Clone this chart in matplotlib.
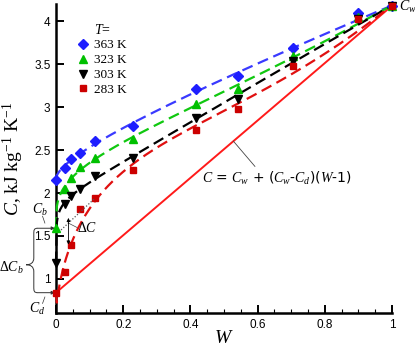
import numpy as np
import matplotlib
matplotlib.use("Agg")
import matplotlib.pyplot as plt
from matplotlib.path import Path
from matplotlib.patches import PathPatch
from matplotlib.ticker import MultipleLocator, FuncFormatter

plt.rcParams['mathtext.fontset'] = 'custom'
plt.rcParams['mathtext.rm'] = 'Liberation Serif'
plt.rcParams['mathtext.it'] = 'Liberation Serif:italic'
plt.rcParams['mathtext.bf'] = 'Liberation Serif:bold'

# ---- data ----
W = [0.0, 0.027, 0.045, 0.07, 0.116, 0.23, 0.417, 0.543, 0.706, 0.898, 1.0]
C_363 = [2.15, 2.29, 2.40, 2.47, 2.60, 2.78, 3.21, 3.36, 3.69, 4.09, 4.18]
C_323 = [1.59, 2.05, 2.17, 2.30, 2.41, 2.63, 3.04, 3.21, 3.59, 4.05, 4.18]
C_303 = [1.19, 1.87, 1.97, 2.05, 2.20, 2.41, 2.87, 3.10, 3.54, 4.03, 4.18]
C_283 = [0.84, 1.08, 1.39, 1.81, 1.94, 2.27, 2.73, 2.98, 3.48, 4.02, 4.18]
labels = ["363 K", "323 K", "303 K", "283 K"]
Cd = C_283[0]
Cb = C_323[0]
Cw = 4.18


def smooth_fit(w, c):
    """Least-squares fit curve through the measured points."""
    w = np.asarray(w, float)
    c = np.asarray(c, float)
    def basis(x):
        return np.column_stack([np.ones_like(x), x ** 0.25, x ** 0.5, x, x ** 2])
    wt = np.ones_like(w)
    wt[0] = 4.0
    wt[-1] = 4.0
    A = basis(w) * wt[:, None]
    coef, *_ = np.linalg.lstsq(A, c * wt, rcond=None)
    xs = np.linspace(0, 1, 400)
    return xs, basis(xs) @ coef


fig = plt.figure(figsize=(4.15, 3.47), dpi=100)
ax = fig.add_axes([0.1349, 0.0971, 0.8097, 0.8914])

series = [
    (C_363, '#1e1eff', '#3a3aff', 'D', 5.0),
    (C_323, '#00c000', '#10c810', '^', 5.5),
    (C_303, '#000000', '#000000', 'v', 5.5),
    (C_283, '#cc0000', '#e01010', 's', 5.0),
]

# solid red line
ax.plot([0, 1], [Cd, Cw], color='#ff1a1a', lw=1.4, zorder=2, clip_on=False)

handles = []
for (vals, mc, lc, mk, ms), lab in zip(series, labels):
    xs, ys = smooth_fit(W, vals)
    ax.plot(xs, ys, color=lc, lw=1.6, dashes=(5, 2.6), zorder=3, clip_on=False)
    h, = ax.plot(W, vals, linestyle='none', marker=mk, color=mc, ms=ms,
                 zorder=4, clip_on=False, label=lab)
    handles.append(h)

ax.set_xlim(0, 1)
ax.set_ylim(0.6, 4.2)

for s in ['top', 'right']:
    ax.spines[s].set_visible(False)
for s in ['left', 'bottom']:
    ax.spines[s].set_linewidth(1.8)

ax.xaxis.set_major_locator(MultipleLocator(0.2))
ax.xaxis.set_minor_locator(MultipleLocator(0.05))
ax.set_yticks([1, 1.5, 2, 2.5, 3, 3.5, 4])
fmt = FuncFormatter(lambda v, p: '%g' % round(v, 3))
ax.xaxis.set_major_formatter(fmt)
ax.yaxis.set_major_formatter(fmt)
ax.tick_params(which='major', direction='in', length=6, width=1.4,
               labelsize=8.5, pad=4)
ax.tick_params(which='minor', direction='in', length=3, width=0.8)
ax.tick_params(axis='y', which='minor', left=False)
for lab in ax.get_xticklabels() + ax.get_yticklabels():
    lab.set_fontfamily('Liberation Sans')

ax.set_xlabel('$W$', fontsize=14, labelpad=-2)
ax.set_ylabel('$C$, kJ kg$^{-1}$ K$^{-1}$', fontsize=14,
              fontfamily='Liberation Serif', labelpad=6)

leg = ax.legend(handles=handles, loc='upper left', bbox_to_anchor=(0.036, 0.97),
                frameon=False, title='$T$=', handlelength=0.8,
                handletextpad=0.5, labelspacing=0.2, borderpad=0.2,
                prop={'family': 'Liberation Serif', 'size': 9.5},
                title_fontproperties={'family': 'Liberation Serif', 'size': 10})

# Cw label
ax.text(1.02, 4.165, '$C_w$', fontsize=10, ha='left', va='center')

# formula annotation
ax.text(0.658, 2.166, '$C$ = $C_w$ + ($C_w$-$C_d$)($W$-1)', fontsize=10,
        ha='center', va='center')
ax.plot([0.528, 0.592], [Cd + (Cw - Cd) * 0.528, 2.31], color='#444444',
        lw=0.6, zorder=5)

# Delta C annotation
ax.plot([0.015, 0.116], [1.57, 1.94], color='#555555', lw=0.9,
        linestyle=(0, (1, 1.5)), zorder=5)
ax.annotate('', xy=(0.037, 1.40), xytext=(0.037, 1.71),
            arrowprops=dict(arrowstyle='<|-|>', color='black', lw=0.6,
                            mutation_scale=5, shrinkA=0, shrinkB=0), zorder=6)
ax.plot([0.037, 0.063], [1.65, 1.598], color='#444444', lw=0.5, zorder=5)
ax.text(0.063, 1.59, r'$\Delta C$', fontsize=10, ha='left', va='center')

# brace for Delta C_b
xa, xc, xt = -0.066, -0.089, -0.054
cm = 1.165
verts = [
    (xt, Cb), (xa, Cb), (xa, Cb - 0.02), (xa, Cb - 0.07),
    (xa, cm + 0.08),
    (xa, cm + 0.02), (xa - 0.01, cm), (xc, cm),
    (xa - 0.01, cm), (xa, cm - 0.02), (xa, cm - 0.08),
    (xa, Cd + 0.07),
    (xa, Cd + 0.02), (xa, Cd), (xt, Cd),
]
codes = [Path.MOVETO, Path.CURVE4, Path.CURVE4, Path.CURVE4,
         Path.LINETO,
         Path.CURVE4, Path.CURVE4, Path.CURVE4,
         Path.CURVE4, Path.CURVE4, Path.CURVE4,
         Path.LINETO,
         Path.CURVE4, Path.CURVE4, Path.CURVE4]
brace = PathPatch(Path(verts, codes), facecolor='none', edgecolor='#333333',
                  lw=0.7, clip_on=False)
ax.add_patch(brace)
for cy in (Cb, Cd):
    ax.annotate('', xy=(-0.003, cy), xytext=(xt, cy),
                arrowprops=dict(arrowstyle='-|>', color='#333333', lw=0.7,
                                mutation_scale=5, shrinkA=0, shrinkB=0),
                annotation_clip=False)
ax.text(-0.095, 1.13, r'$\Delta C_b$', fontsize=10, ha='right', va='center')
ax.text(-0.048, 1.80, '$C_b$', fontsize=10, ha='center', va='center')
ax.plot([-0.04, -0.033], [1.73, 1.65], color='#333333', lw=0.5, clip_on=False)
ax.text(-0.057, 0.645, '$C_d$', fontsize=10, ha='center', va='center')
ax.plot([-0.04, -0.033], [0.715, 0.79], color='#333333', lw=0.5, clip_on=False)

fig.savefig('out.png', dpi=100)
